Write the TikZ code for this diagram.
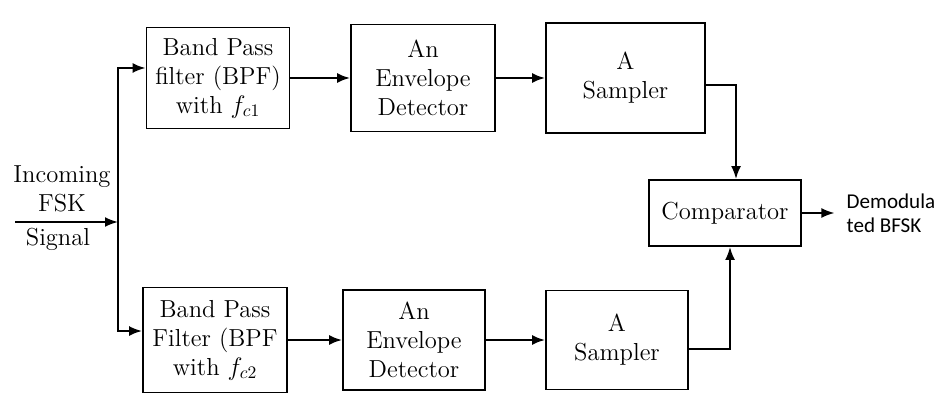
\documentclass[tikz,border=0pt]{standalone}
\usepackage{fontspec}
\usetikzlibrary{arrows.meta,positioning}
\newfontfamily\outfont{Carlito}

\begin{document}
\begin{tikzpicture}[every node/.style={font=\fontsize{14}{16.5}\selectfont},
      box/.style={draw,line width=1.1pt,align=center,inner sep=2pt},
      sig/.style={line width=1.1pt,-{Latex[length=2.6mm,width=2mm]}}]
    \useasboundingbox (0,0) rectangle (18.74,-8);
    % upper branch
    \node[box,minimum width=2.86cm,minimum height=2.02cm] (bpfa) at (4.36,-1.56) {Band Pass\\filter (BPF)\\with $f_{c1}$};
    \node[box,minimum width=2.88cm,minimum height=2.14cm] (enva) at (8.46,-1.56) {An\\Envelope\\Detector};
    \node[box,minimum width=3.18cm,minimum height=2.2cm]  (sama) at (12.51,-1.56) {A\\Sampler};
    % lower branch
    \node[box,minimum width=2.88cm,minimum height=2.1cm]  (bpfb) at (4.30,-6.8) {Band Pass\\Filter (BPF\\with $f_{c2}$};
    \node[box,minimum width=2.84cm,minimum height=2.0cm]  (envb) at (8.28,-6.8) {An\\Envelope\\Detector};
    \node[box,minimum width=2.84cm,minimum height=1.98cm] (samb) at (12.34,-6.8) {A\\Sampler};
    \node[box,minimum width=3.04cm,minimum height=1.32cm] (comp) at (14.5,-4.26) {Comparator};
    % input
    \coordinate (inp) at (0.3,-4.44);
    \coordinate (split) at (2.36,-4.44);
    \node[align=center,above=2pt of split,xshift=-1.12cm] (txta) {Incoming\\FSK};
    \node[below=0pt of split,xshift=-1.2cm] (txtb) {Signal};
    \draw[sig] (inp) -- (split);
    \draw[sig] (split) |- ([yshift=0.2cm]bpfa.west);
    \draw[sig] (split) |- ([yshift=0.18cm]bpfb.west);
    \foreach \a/\b in {bpfa/enva,enva/sama,bpfb/envb,envb/samb}{\draw[sig] (\a) -- (\b);}
    \draw[sig] ([yshift=-0.14cm]sama.east) -| ([xshift=0.22cm]comp.north);
    \draw[sig] ([yshift=-0.18cm]samb.east) -| ([xshift=0.1cm]comp.south);
    % output
    \coordinate[right=0.65cm of comp.east] (out);
    \draw[sig] (comp.east) -- (out);
    \node[font=\outfont\fontsize{12}{13.5}\selectfont,align=left,right=0.12cm of out] (txtc) {Demodula\\ted BFSK};
  \end{tikzpicture}
\end{document}
